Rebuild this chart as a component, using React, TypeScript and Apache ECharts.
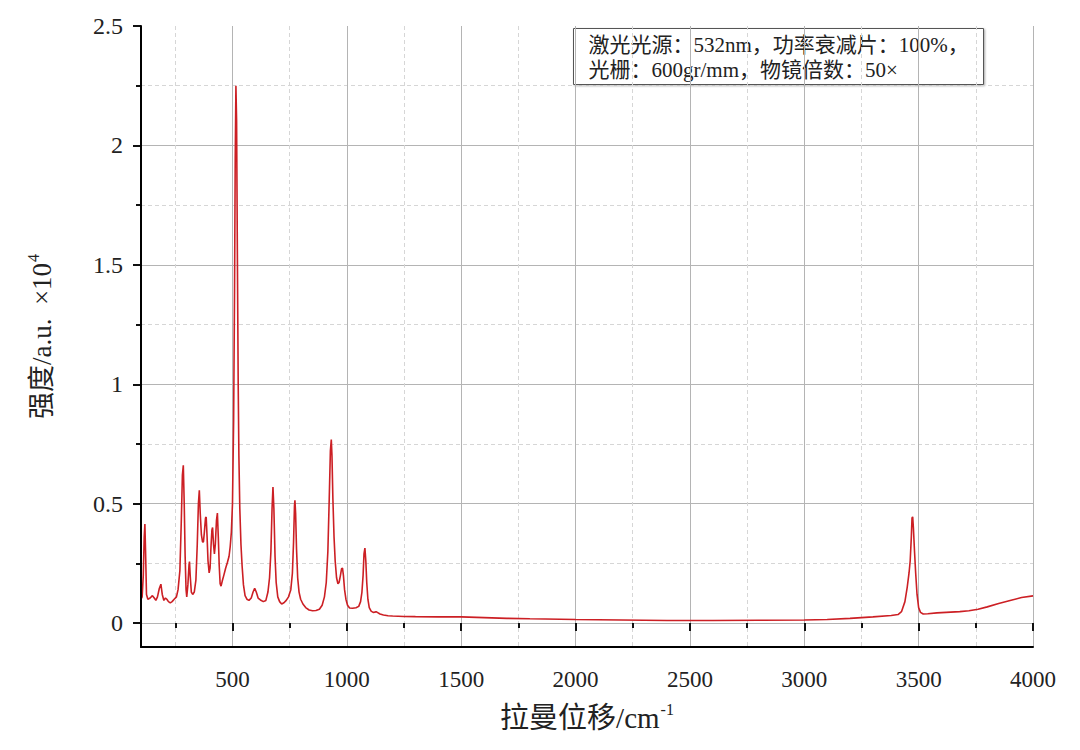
import React, { useEffect, useRef } from "react";
import * as echarts from "echarts";

// Raman shift (cm^-1) and intensity (x10^4 a.u.)
const shift: number[] = [
  100, 105, 110, 114, 117, 120, 124, 130, 140, 150, 158, 165, 172, 180, 187, 193, 200, 207, 213, 220,
  228, 236, 245, 255, 262, 270, 276, 281, 285, 289, 293, 297, 300, 305, 310, 312, 315, 320, 326, 333,
  340, 346, 351, 355, 359, 364, 369, 373, 377, 382, 385, 389, 393, 398, 402, 406, 410, 413, 417, 421,
  425, 430, 434, 438, 442, 446, 450, 455, 462, 470, 478, 485, 490, 495, 500, 505, 509, 512, 515, 518,
  521, 525, 528, 532, 537, 542, 548, 555, 563, 572, 582, 590, 597, 604, 612, 622, 635, 646, 655, 662,
  668, 673, 677, 681, 686, 691, 698, 706, 715, 725, 735, 745, 755, 762, 767, 771, 773, 776, 780, 785,
  791, 798, 808, 820, 835, 850, 865, 880, 892, 902, 910, 917, 923, 928, 932, 935, 939, 944, 949, 955,
  961, 966, 972, 977, 981, 985, 990, 996, 1003, 1012, 1025, 1040, 1052, 1060, 1066, 1071, 1075, 1079, 1083, 1087,
  1092, 1098, 1106, 1115, 1122, 1128, 1135, 1145, 1160, 1180, 1200, 1250, 1300, 1400, 1500, 1600, 1700, 1800, 2000, 2200,
  2400, 2600, 2800, 3000, 3100, 3200, 3300, 3380, 3410, 3425, 3440, 3450, 3458, 3463, 3468, 3471, 3474, 3477, 3482, 3487,
  3493, 3500, 3508, 3520, 3540, 3580, 3620, 3680, 3720, 3760, 3800, 3850, 3900, 3950, 4000,
];
const intensity: number[] = [
  0.1, 0.11, 0.2, 0.36, 0.415, 0.3, 0.12, 0.1, 0.105, 0.115, 0.105, 0.095, 0.11, 0.145, 0.163, 0.12, 0.095, 0.105, 0.1, 0.09,
  0.085, 0.09, 0.1, 0.11, 0.14, 0.22, 0.42, 0.62, 0.661, 0.5, 0.28, 0.14, 0.11, 0.16, 0.245, 0.258, 0.2, 0.13, 0.12, 0.13,
  0.18, 0.33, 0.5, 0.556, 0.46, 0.37, 0.34, 0.34, 0.38, 0.44, 0.444, 0.36, 0.26, 0.21, 0.23, 0.32, 0.39, 0.4, 0.33, 0.29,
  0.33, 0.43, 0.461, 0.36, 0.24, 0.165, 0.155, 0.175, 0.2, 0.23, 0.255, 0.28, 0.32, 0.38, 0.5, 0.85, 1.4, 1.95, 2.25, 2.1,
  1.6, 1.0, 0.7, 0.48, 0.33, 0.24, 0.16, 0.115, 0.1, 0.095, 0.105, 0.13, 0.146, 0.13, 0.105, 0.097, 0.09, 0.095, 0.13, 0.19,
  0.3, 0.48, 0.57, 0.48, 0.28, 0.17, 0.11, 0.09, 0.08, 0.085, 0.095, 0.11, 0.14, 0.21, 0.34, 0.49, 0.514, 0.46, 0.31, 0.19,
  0.13, 0.1, 0.08, 0.065, 0.055, 0.052, 0.053, 0.058, 0.075, 0.11, 0.17, 0.3, 0.52, 0.72, 0.769, 0.7, 0.52, 0.36, 0.26, 0.19,
  0.165, 0.17, 0.2, 0.228, 0.23, 0.2, 0.14, 0.1, 0.075, 0.063, 0.062, 0.064, 0.07, 0.09, 0.13, 0.2, 0.29, 0.314, 0.26, 0.17,
  0.1, 0.065, 0.05, 0.045, 0.046, 0.048, 0.044, 0.038, 0.034, 0.031, 0.03, 0.028, 0.027, 0.026, 0.026, 0.023, 0.02, 0.018, 0.015, 0.013,
  0.011, 0.011, 0.012, 0.013, 0.015, 0.02, 0.026, 0.032, 0.036, 0.048, 0.09, 0.15, 0.21, 0.26, 0.36, 0.44, 0.445, 0.4, 0.3, 0.21,
  0.12, 0.065, 0.045, 0.038, 0.039, 0.043, 0.045, 0.048, 0.052, 0.058, 0.068, 0.082, 0.095, 0.107, 0.114,
];

const xMajorTicks = [500, 4000];
const xMinorTicks = [250, 3750];
const yMajorTicks = [0, 2.5];
const yMinorTicks = [0.25, 2.25];
const tickStep = { x: 500, y: 0.5 };

const noteLine1 = "激光光源：532nm，功率衰减片：100%，";
const noteLine2 = "光栅：600gr/mm，物镜倍数：50×";

const FONT = '"Liberation Serif", "Noto Sans CJK SC", serif';

export default function App() {
  const ref = useRef<HTMLDivElement>(null);

  useEffect(() => {
    if (!ref.current) return;
    const chart = echarts.init(ref.current, undefined, { renderer: "svg" });

    const L = 141, R = 1033, T = 26, B = 647;
    const xMin = 100, xMax = 4000, yMin = -0.1, yMax = 2.5;
    const sx = (R - L) / (xMax - xMin);
    const sy = (B - T) / (yMax - yMin);
    const px = (v: number) => L + (v - xMin) * sx;
    const py = (v: number) => B - (v - yMin) * sy;

    const majorLine = { color: "#b4b4b4", width: 1, type: "solid" as const };
    const minorLine = { color: "#d6d6d6", width: 1, type: [4, 3] as any };
    const tickMajor = { show: true, length: 8, lineStyle: { color: "#111", width: 2 } };
    const tickMinor = { show: true, length: 5, lineStyle: { color: "#111", width: 2 } };
    const hiddenAxis = (min: number, max: number) => ({ type: "value" as const, min, max, show: false });

    const grids: any[] = [
      { left: L, top: T, width: R - L, height: B - T },
      { left: L, width: R - L, top: py(yMajorTicks[1]), height: py(yMajorTicks[0]) - py(yMajorTicks[1]) },
      { left: L, width: R - L, top: py(yMinorTicks[1]), height: py(yMinorTicks[0]) - py(yMinorTicks[1]) },
      { left: px(xMajorTicks[0]), width: px(xMajorTicks[1]) - px(xMajorTicks[0]), top: T, height: B - T },
      { left: px(xMinorTicks[0]), width: px(xMinorTicks[1]) - px(xMinorTicks[0]), top: T, height: B - T },
    ].map((g) => ({ ...g, containLabel: false, outerBoundsMode: "none" }));

    const option: any = {
      animation: false,
      backgroundColor: "#ffffff",
      grid: grids,
      xAxis: [
        {
          type: "value",
          min: xMin,
          max: xMax,
          axisLine: { show: true, onZero: false, lineStyle: { color: "#000", width: 2 } },
          axisTick: { show: false },
          axisLabel: { show: false },
          splitLine: { show: false },
          name: "{a|拉曼位移/cm}{s|-1}",
          nameLocation: "middle",
          nameGap: 54,
          nameTextStyle: {
            rich: {
              a: { fontSize: 29, fontFamily: FONT, color: "#222", verticalAlign: "bottom" },
              s: { fontSize: 16, fontFamily: FONT, color: "#222", verticalAlign: "bottom", padding: [0, 0, 15, 1] },
            },
          },
          z: 10,
        },
        hiddenAxis(xMin, xMax),
        hiddenAxis(xMin, xMax),
        {
          type: "value",
          min: xMajorTicks[0],
          max: xMajorTicks[1],
          interval: tickStep.x,
          axisLine: { show: false },
          axisTick: tickMajor,
          axisLabel: {
            show: true,
            margin: 21,
            fontSize: 23,
            fontFamily: FONT,
            color: "#222",
            formatter: (v: number) => String(v),
          },
          splitLine: { show: true, lineStyle: majorLine },
        },
        {
          type: "value",
          min: xMinorTicks[0],
          max: xMinorTicks[1],
          interval: tickStep.x,
          axisLine: { show: false },
          axisTick: tickMinor,
          axisLabel: { show: false },
          splitLine: { show: true, lineStyle: minorLine },
        },
      ].map((a: any, i: number) => ({ ...a, gridIndex: i })),
      yAxis: [
        {
          type: "value",
          min: yMin,
          max: yMax,
          axisLine: { show: true, onZero: false, lineStyle: { color: "#000", width: 2 } },
          axisTick: { show: false },
          axisLabel: { show: false },
          splitLine: { show: false },
          name: "{a|强度/a.u.  ×10}{s|4}",
          nameLocation: "middle",
          nameRotate: 90,
          nameGap: 86,
          nameTextStyle: {
            rich: {
              a: { fontSize: 27, fontFamily: FONT, color: "#222", verticalAlign: "bottom" },
              s: { fontSize: 16, fontFamily: FONT, color: "#222", verticalAlign: "bottom", padding: [0, 0, 14, 1] },
            },
          },
          z: 10,
        },
        {
          type: "value",
          min: yMajorTicks[0],
          max: yMajorTicks[1],
          interval: tickStep.y,
          axisLine: { show: false },
          axisTick: tickMajor,
          axisLabel: { show: true, margin: 18, fontSize: 24, fontFamily: FONT, color: "#222" },
          splitLine: { show: true, showMaxLine: false, lineStyle: majorLine },
        },
        {
          type: "value",
          min: yMinorTicks[0],
          max: yMinorTicks[1],
          interval: tickStep.y,
          axisLine: { show: false },
          axisTick: tickMinor,
          axisLabel: { show: false },
          splitLine: { show: true, lineStyle: minorLine },
        },
        hiddenAxis(yMin, yMax),
        hiddenAxis(yMin, yMax),
      ].map((a: any, i: number) => ({ ...a, gridIndex: i })),
      series: [
        {
          type: "line",
          xAxisIndex: 0,
          yAxisIndex: 0,
          data: shift.map((x, i) => [x, intensity[i]]),
          showSymbol: false,
          symbol: "none",
          smooth: false,
          lineStyle: { color: "#cc1f24", width: 1.6 },
          z: 5,
        },
      ],
      graphic: [
        {
          type: "group",
          left: 573,
          top: 28,
          z: 100,
          children: [
            {
              type: "rect",
              shape: { x: 0, y: 0, width: 410, height: 56 },
              style: {
                fill: "#fff",
                stroke: "#555",
                lineWidth: 1,
                shadowBlur: 2,
                shadowOffsetX: 1,
                shadowOffsetY: 1,
                shadowColor: "rgba(0,0,0,0.35)",
              },
            },
            {
              type: "text",
              x: 15,
              y: 16,
              style: { text: noteLine1, font: `21px ${FONT}`, fill: "#222", verticalAlign: "middle" },
            },
            {
              type: "text",
              x: 15,
              y: 41,
              style: { text: noteLine2, font: `21px ${FONT}`, fill: "#222", verticalAlign: "middle" },
            },
          ],
        },
      ],
    };

    chart.setOption(option);
    return () => chart.dispose();
  }, []);

  return (
    <div
      ref={ref}
      style={{ position: "fixed", left: 0, top: 0, width: 1080, height: 750, background: "#fff" }}
    />
  );
}
